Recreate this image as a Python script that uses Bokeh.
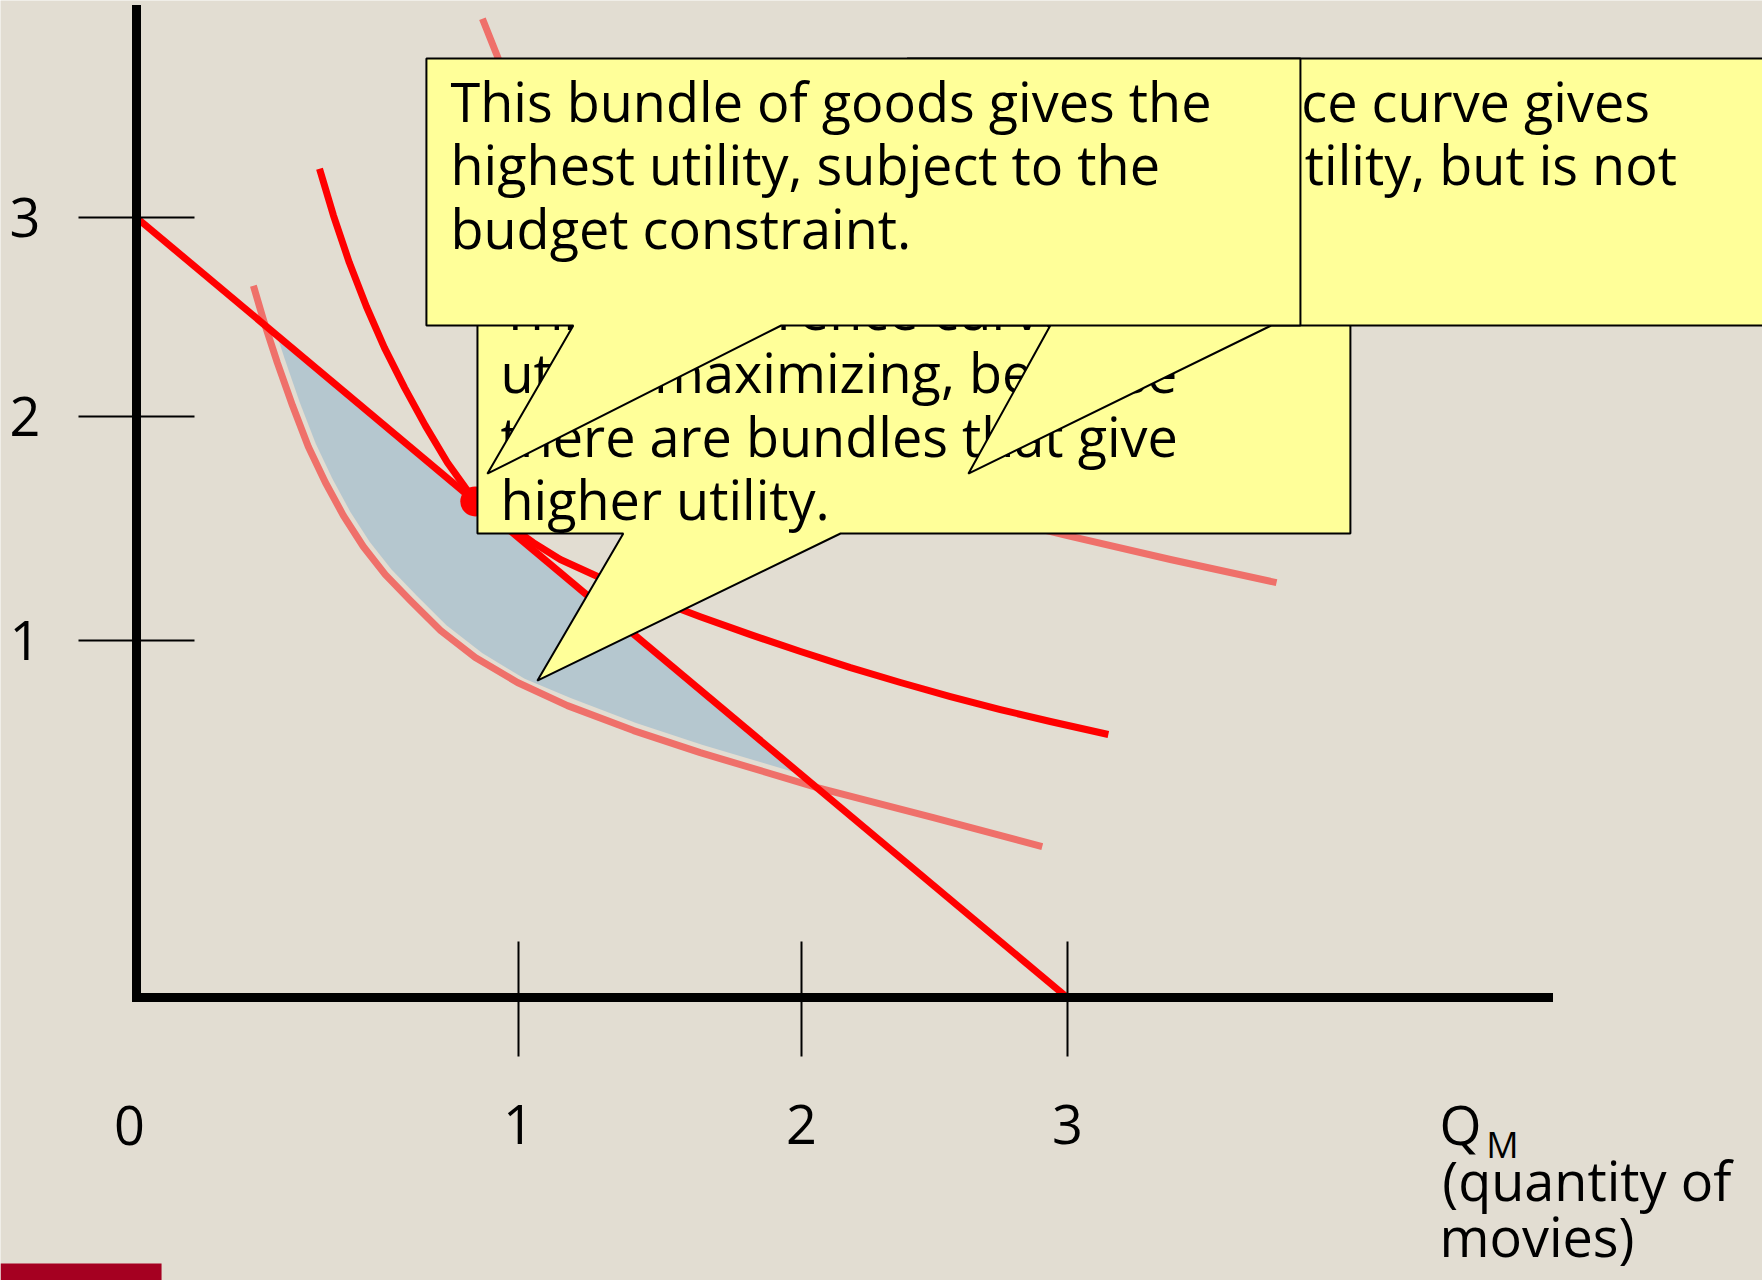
from bokeh.plotting import figure
from bokeh.models import Range1d, FixedTicker, Label, BoxAnnotation
from bokeh.core.properties import value
from bokeh.embed import file_html
from bokeh.resources import INLINE

# ---- data -------------------------------------------------------------
# axis ticks (positions along each axis and their printed labels)
x_tick_pos = [1.231, 2.143, 3.0]
x_tick_labels = ["1", "2", "3"]
y_tick_pos = [1.373, 2.235, 3.0]
y_tick_labels = ["1", "2", "3"]

# budget constraint
budget_x = [0.0, 3.0]
budget_y = [3.0, 0.0]

# utility-maximising bundle
optimum_x = [1.092]
optimum_y = [1.908]

# indifference curve tangent to the budget line
ic_mid_x = [0.590, 0.635, 0.686, 0.741, 0.799, 0.864, 0.931, 1.002, 1.092,
            1.189, 1.279, 1.366, 1.495, 1.656, 1.817, 1.979, 2.140, 2.301,
            2.462, 2.623, 2.784, 2.945, 3.132]
ic_mid_y = [3.188, 3.008, 2.827, 2.658, 2.500, 2.346, 2.200, 2.058, 1.908,
            1.827, 1.750, 1.685, 1.615, 1.538, 1.465, 1.396, 1.331, 1.269,
            1.212, 1.158, 1.108, 1.062, 1.012]

# lower indifference curve (affordable, lower utility)
ic_low_x = [0.377, 0.412, 0.454, 0.503, 0.554, 0.609, 0.667, 0.731, 0.802, 0.883,
            0.980, 1.092, 1.228, 1.389, 1.602, 1.817, 2.194, 2.568, 2.919]
ic_low_y = [2.738, 2.596, 2.442, 2.277, 2.119, 1.981, 1.854, 1.735, 1.627, 1.527,
            1.412, 1.308, 1.212, 1.123, 1.027, 0.942, 0.808, 0.692, 0.581]

# higher indifference curve (not affordable)
ic_high_x = [1.115, 1.166, 1.231, 1.318, 1.431, 1.576, 1.753, 1.962, 2.204, 2.462,
             2.736, 3.000, 3.332, 3.674]
ic_high_y = [3.765, 3.612, 3.373, 3.104, 2.835, 2.585, 2.365, 2.188, 2.046, 1.938,
             1.854, 1.777, 1.685, 1.596]

# affordable bundles lying above the lower indifference curve
region_x = [0.453, 0.479, 0.527, 0.578, 0.632, 0.689, 0.752, 0.822, 0.902, 0.999,
            1.114, 1.251, 1.399, 1.610, 1.825, 2.018, 2.140]
region_y = [2.547, 2.452, 2.287, 2.130, 1.995, 1.869, 1.752, 1.647, 1.548, 1.432,
            1.325, 1.226, 1.152, 1.056, 0.972, 0.903, 0.860]

# callout texts
note_best = ["This bundle of goods gives the",
             "highest utility, subject to the",
             "budget constraint."]
note_low = ["This indifference curve is not",
            "utility maximizing, because",
            "there are bundles that give",
            "higher utility."]
note_high = ["This indifference curve gives",
             "even greater utility, but is not",
             "affordable."]

# ---- style ------------------------------------------------------------
BG = "#E2DDD2"
RED = "#FF0000"
SALMON = "#EF706A"
SHADE = "#B5C7CF"
NOTE = "#FFFF99"
FONT = "Open Sans"
FS = "54px"
LW = 7

p = figure(width=1762, height=1280,
           x_range=Range1d(-0.438, 5.240), y_range=Range1d(-1.088, 3.835),
           output_backend="svg", toolbar_location=None,
           min_border=0, min_border_left=0, min_border_right=0,
           min_border_top=0, min_border_bottom=0)
p.grid.visible = False
p.outline_line_color = None
p.background_fill_color = BG
p.border_fill_color = BG

# axes crossing at the origin
xa = p.xaxis[0]
xa.fixed_location = 0
xa.ticker = FixedTicker(ticks=x_tick_pos)
xa.major_label_overrides = {t: s for t, s in zip(x_tick_pos, x_tick_labels)}
xa.bounds = (0, 4.55)
xa.major_tick_in = 56
xa.major_tick_out = 59
xa.major_label_standoff = 48

ya = p.yaxis[0]
ya.fixed_location = 0
ya.ticker = FixedTicker(ticks=y_tick_pos)
ya.major_label_overrides = {t: s for t, s in zip(y_tick_pos, y_tick_labels)}
ya.bounds = (0, 3.8)
ya.major_tick_in = 58
ya.major_tick_out = 58
ya.major_label_standoff = 38

for ax in (xa, ya):
    ax.axis_line_width = 9
    ax.axis_line_color = "black"
    ax.axis_line_cap = "square"
    ax.major_tick_line_width = 2
    ax.major_tick_line_color = "black"
    ax.minor_tick_line_color = None
    ax.major_label_text_font = FONT
    ax.major_label_text_font_size = FS
    ax.major_label_text_color = "black"

# shaded region, curves, budget line, optimum
p.patch(region_x, region_y, fill_color=SHADE, line_color=None)
p.line(ic_low_x, ic_low_y, line_color=SALMON, line_width=LW, line_join="round")
p.line(ic_high_x, ic_high_y, line_color=SALMON, line_width=LW, line_join="round")
p.line(ic_mid_x, ic_mid_y, line_color=RED, line_width=LW, line_join="round")
p.line(budget_x, budget_y, line_color=RED, line_width=LW)
p.scatter(optimum_x, optimum_y, size=30, fill_color=RED, line_color=None)


# callout boxes: rectangle with a wedge pointing at (tip_x, tip_y)
def callout(left, right, top, bottom, base_l, base_r, tip_x, tip_y, lines, tx, ty0, dy=0.2442):
    xs = [left, right, right, base_r, tip_x, base_l, left]
    ys = [top, top, bottom, bottom, tip_y, bottom, bottom]
    p.patch(xs, ys, fill_color=NOTE, line_color="black", line_width=2)
    p.text(x=[tx] * len(lines), y=[ty0 - i * dy for i in range(len(lines))], text=lines,
           text_font=value(FONT), text_font_size=FS, text_color="black",
           text_align="left", text_baseline="alphabetic")


callout(1.099, 3.912, 2.812, 1.785, 1.569, 2.269, 1.292, 1.219, note_low, 1.173, 2.650)
callout(2.484, 5.298, 3.612, 2.585, 2.945, 3.657, 2.681, 2.015, note_high, 2.588, 3.450)
callout(0.9345, 3.751, 3.612, 2.585, 1.408, 2.078, 1.131, 2.015, note_best, 1.012, 3.450)


# origin label and horizontal-axis title
def caption(x, y, text, size=FS, align="left", baseline="alphabetic", dx=0):
    p.add_layout(Label(x=x, y=y, text=text, text_font=FONT, text_font_size=size,
                       text_color="black", text_align=align, text_baseline=baseline,
                       x_offset=dx))


caption(0, -0.492, "0", align="center", baseline="middle", dx=-7)
caption(4.199, -0.488, "Q")
caption(4.350, -0.566, "M", size="36px")
caption(4.208, -0.700, "(quantity of")
caption(4.199, -0.918, "movies)")

# footer accent bar
p.add_layout(BoxAnnotation(left=-0.438, right=0.081, top=-1.023, bottom=-1.088,
                           fill_color="#A50021", fill_alpha=1.0, line_color=None))

open("out.html", "w").write(file_html(p, INLINE))
